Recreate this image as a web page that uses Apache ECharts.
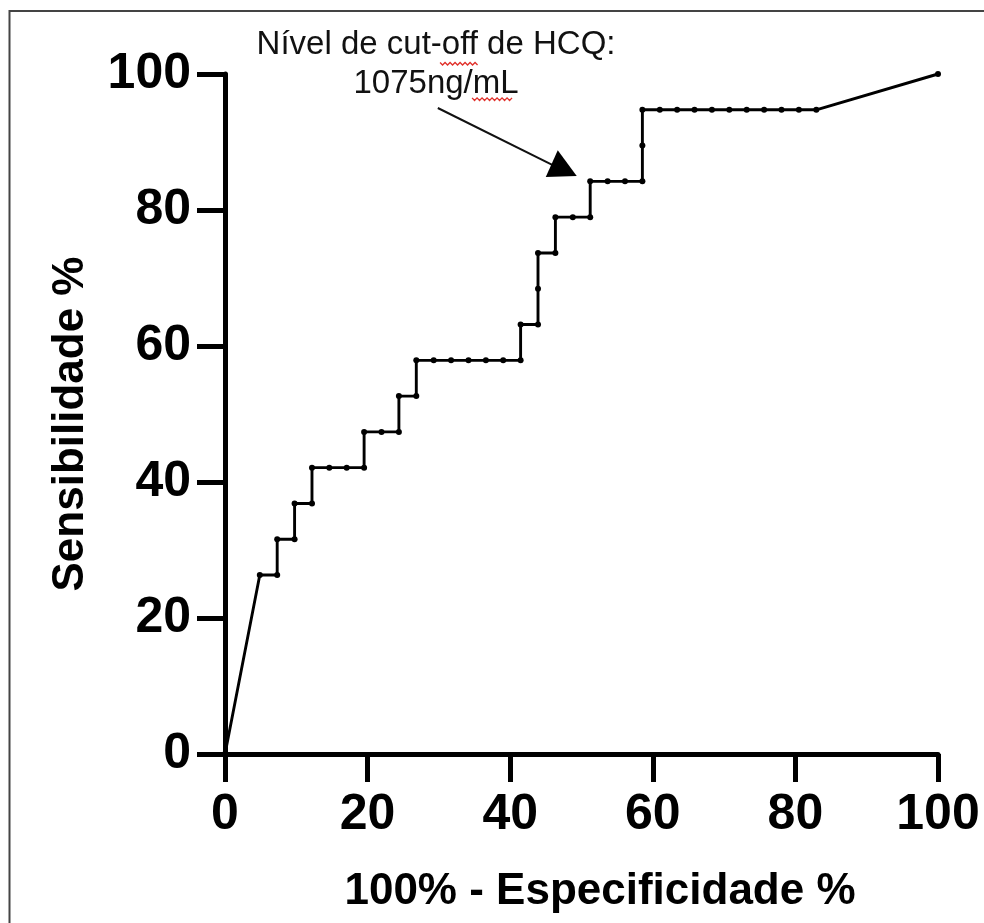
<!DOCTYPE html>
<html>
<head>
<meta charset="utf-8">
<script src="https://cdn.jsdelivr.net/npm/echarts@6/dist/echarts.min.js"></script>
<style>
html,body{margin:0;padding:0;background:#fff;}
#chart{width:984px;height:923px;}
</style>
</head>
<body>
<div id="chart"></div>
<script>
// 100% - Especificidade % (x) and Sensibilidade % (y) of each ROC point
const fpr = [0, 4.88, 7.32, 7.32, 9.76, 9.76, 12.20, 12.20, 14.63, 17.07, 19.51, 19.51, 21.95, 24.39, 24.39, 26.83, 26.83,
  29.27, 31.71, 34.15, 36.59, 39.02, 41.46, 41.46, 43.90, 43.90, 43.90, 46.34, 46.34, 48.78, 51.22, 51.22, 53.66, 56.10,
  58.54, 58.54, 58.54, 60.98, 63.41, 65.85, 68.29, 70.73, 73.17, 75.61, 78.05, 80.49, 82.93, 100];
const tpr = [0, 26.32, 26.32, 31.58, 31.58, 36.84, 36.84, 42.11, 42.11, 42.11, 42.11, 47.37, 47.37, 47.37, 52.63, 52.63, 57.89,
  57.89, 57.89, 57.89, 57.89, 57.89, 57.89, 63.16, 63.16, 68.42, 73.68, 73.68, 78.95, 78.95, 78.95, 84.21, 84.21, 84.21,
  84.21, 89.47, 94.74, 94.74, 94.74, 94.74, 94.74, 94.74, 94.74, 94.74, 94.74, 94.74, 94.74, 100];

const xTitle = '100% - Especificidade %';
const yTitle = 'Sensibilidade %';
const noteLines = ['Nível de cut-off de HCQ:', '1075ng/mL'];
// annotation anchors in data coordinates
const noteLine1At = [29.6, 104.3];
const noteLine2At = [29.6, 98.5];
const arrowFrom = [29.85, 95.0];
const arrowTo = [45.97, 86.6];
const arrowHead = [[46.67, 88.8], [44.99, 84.85], [49.33, 85.0]];

const FONT = "'Liberation Sans', Arial, Helvetica, sans-serif";

const chart = echarts.init(document.getElementById('chart'), null, {renderer: 'canvas'});
const data = fpr.map((x, i) => [x, tpr[i]]);

const option = {
  animation: false,
  backgroundColor: '#fff',
  grid: {left: 225, right: 46, top: 74, bottom: 169, containLabel: false},
  xAxis: {
    type: 'value', min: 0, max: 100, interval: 20,
    name: xTitle, nameLocation: 'middle', nameGap: 116,
    nameTextStyle: {fontFamily: FONT, fontWeight: 'bold', fontSize: 44, color: '#000', padding: [0, 0, 0, 37]},
    axisLine: {show: true, lineStyle: {color: '#000', width: 5}},
    axisTick: {show: true, length: 28, lineStyle: {color: '#000', width: 5}},
    axisLabel: {fontFamily: FONT, fontWeight: 'bold', fontSize: 50, color: '#000', margin: 36},
    splitLine: {show: false}
  },
  yAxis: {
    type: 'value', min: 0, max: 100, interval: 20,
    name: yTitle, nameLocation: 'middle', nameGap: 132, nameRotate: 90,
    nameTextStyle: {fontFamily: FONT, fontWeight: 'bold', fontSize: 44, color: '#000', padding: [0, 20, 0, 0]},
    axisLine: {show: true, lineStyle: {color: '#000', width: 5}},
    axisTick: {show: true, length: 28, lineStyle: {color: '#000', width: 5}},
    axisLabel: {fontFamily: FONT, fontWeight: 'bold', fontSize: 50, color: '#000', margin: 34},
    splitLine: {show: false}
  },
  series: [{
    type: 'line',
    data: data,
    symbol: 'circle', symbolSize: 6, showSymbol: true,
    lineStyle: {color: '#000', width: 2.9},
    itemStyle: {color: '#000'},
    z: 3
  }]
};
chart.setOption(option);

function px(p) { return chart.convertToPixel({gridIndex: 0}, p); }
function wavy(x0, x1, y) {
  const pts = [];
  let up = true;
  for (let x = x0; x <= x1; x += 2.5) { pts.push([x, y + (up ? -1.3 : 1.3)]); up = !up; }
  return pts;
}

const p1 = px(noteLine1At), p2 = px(noteLine2At);
const a0 = px(arrowFrom), a1 = px(arrowTo);
const head = arrowHead.map(px);

chart.setOption({
  graphic: [
    {type: 'rect', silent: true, shape: {x: 9.5, y: 11, width: 1200, height: 1200},
      style: {fill: 'none', stroke: '#444', lineWidth: 2}},
    {type: 'text', x: p1[0], y: p1[1], style: {text: noteLines[0], fontFamily: FONT, fontSize: 33, fill: '#111',
      align: 'center', verticalAlign: 'middle'}},
    {type: 'text', x: p2[0], y: p2[1], style: {text: noteLines[1], fontFamily: FONT, fontSize: 33, fill: '#111',
      align: 'center', verticalAlign: 'middle'}},
    {type: 'polyline', shape: {points: wavy(p1[0] + 4, p1[0] + 42, p1[1] + 19)}, style: {stroke: '#e0302a', lineWidth: 1.3, fill: 'none'}},
    {type: 'polyline', shape: {points: wavy(p2[0] + 36, p2[0] + 78, p2[1] + 15)}, style: {stroke: '#e0302a', lineWidth: 1.3, fill: 'none'}},
    {type: 'line', shape: {x1: a0[0], y1: a0[1], x2: a1[0], y2: a1[1]}, style: {stroke: '#111', lineWidth: 2}},
    {type: 'polygon', shape: {points: head}, style: {fill: '#000'}}
  ]
});
</script>
</body>
</html>
